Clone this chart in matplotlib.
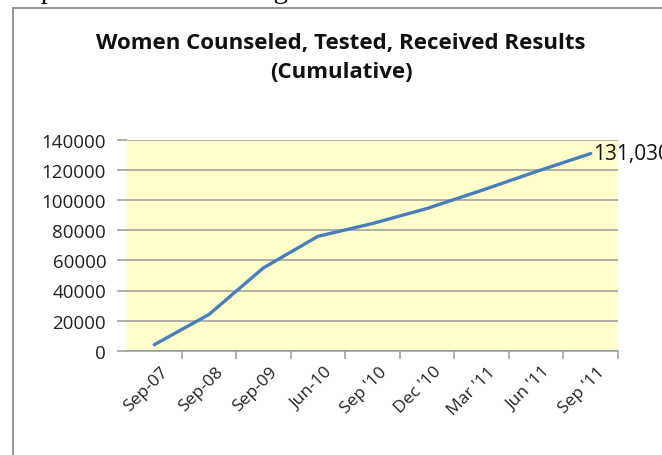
import matplotlib
matplotlib.use('Agg')
import matplotlib.pyplot as plt
from matplotlib.patches import Rectangle
from matplotlib.transforms import ScaledTranslation

plt.rcParams['font.family'] = ['Open Sans', 'DejaVu Sans']

# data
periods = ['Sep-07', 'Sep-08', 'Sep-09', 'Jun-10', "Sep '10", "Dec '10",
           "Mar '11", "Jun '11", "Sep '11"]
cumulative = [4000, 24000, 55000, 76000, 84500, 94500, 106500, 119000, 131030]
yticks = [0, 20000, 40000, 60000, 80000, 100000, 120000, 140000]

fig = plt.figure(figsize=(6.62, 4.56), dpi=100)

# caption of the page, mostly cut off at the top
fig.text(-0.005, 1 + 2 / 456, 'Graph 7: PMTCT testing trend', family='Liberation Serif',
         fontsize=21, ha='left', va='baseline', color='#111')

# chart frame (runs past the right and bottom edge)
fig.patches.append(Rectangle((13 / 662, -0.1), 1.0, 1.1 - 9 / 456,
                             transform=fig.transFigure, fill=False,
                             edgecolor='#8c8c8c', linewidth=1.3))

ax = fig.add_axes([127 / 662, 1 - 351.7 / 456, (618 - 127) / 662, (351.7 - 141) / 456])
ax.set_facecolor('#ffffcc')

x = list(range(len(periods)))
ax.plot(x, cumulative, color='#4a7ebb', linewidth=2.4, solid_capstyle='round',
        zorder=3, clip_on=False)
ax.text(x[-1] + 0.04, cumulative[-1], f'{cumulative[-1]:,}', fontsize=15,
        ha='left', va='center', color='#111', clip_on=False)

ax.set_xlim(-0.5, len(periods) - 0.5)
ax.set_ylim(0, 140000)

ax.set_yticks(yticks)
ax.set_yticklabels([str(v) for v in yticks], fontsize=13.5, color='#222')
ax.yaxis.grid(True, color='#9a9a9a', linewidth=1.1)
ax.tick_params(axis='y', length=7, color='#9a9a9a', width=1.1, pad=8)

ax.set_xticks([i + 0.5 for i in x])
ax.set_xticklabels([])
ax.set_xticks(x, minor=True)
ax.set_xticklabels(periods, minor=True, rotation=45, ha='right',
                   rotation_mode='anchor', fontsize=12.5, color='#222')
ax.tick_params(axis='x', which='major', length=6, color='#9a9a9a', width=1.1)
ax.tick_params(axis='x', which='minor', length=0, pad=9)
shift = ScaledTranslation(6 / 100, 0, fig.dpi_scale_trans)
for lbl in ax.get_xticklabels(minor=True):
    lbl.set_transform(lbl.get_transform() + shift)

for s in ['top', 'right', 'left']:
    ax.spines[s].set_visible(False)
ax.spines['bottom'].set_color('#9a9a9a')
ax.spines['bottom'].set_linewidth(1.1)
ax.set_axisbelow(True)

fig.text(341 / 662, 1 - 43 / 456, 'Women Counseled, Tested, Received Results',
         fontsize=16, fontweight='bold', ha='center', va='center', color='#111')
fig.text(341 / 662, 1 - 72 / 456, '(Cumulative)',
         fontsize=16, fontweight='bold', ha='center', va='center', color='#111')

fig.savefig('out.png', dpi=100)
